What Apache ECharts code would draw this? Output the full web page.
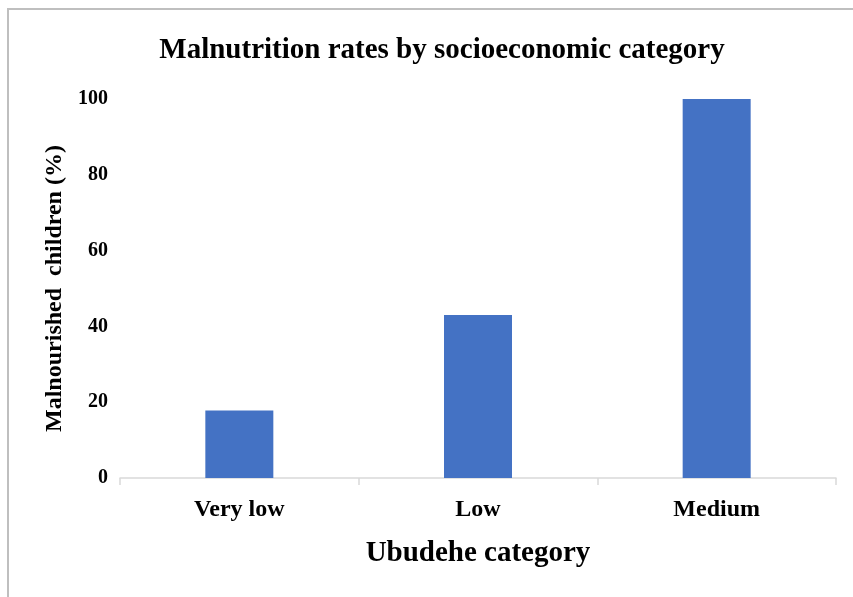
<!DOCTYPE html>
<html>
<head>
<meta charset="utf-8">
<script src="https://cdn.jsdelivr.net/npm/echarts@6/dist/echarts.min.js"></script>
<style>html,body{margin:0;padding:0;background:#fff;}#c{width:853px;height:597px;}</style>
</head>
<body>
<div id="c"></div>
<script>
const categories = ["Very low", "Low", "Medium"];
const values = [17.8, 43.0, 100];
const yTicks = [0, 20, 40, 60, 80, 100];

const F = "'Liberation Serif', 'Times New Roman', serif";
const chart = echarts.init(document.getElementById('c'), null, {renderer: 'canvas'});
chart.setOption({
  animation: false,
  backgroundColor: '#fff',
  title: {
    text: 'Malnutrition rates by socioeconomic category',
    left: 437, top: 31, textAlign: 'center',
    textStyle: {fontFamily: F, fontSize: 29, fontWeight: 'bold', color: '#000'}
  },
  graphic: [{
    type: 'rect', shape: {x: 8, y: 9, width: 900, height: 700},
    style: {fill: 'none', stroke: '#bfbfbf', lineWidth: 2}, silent: true
  }],
  grid: {left: 120, right: 17, top: 99, bottom: 119},
  xAxis: {
    type: 'category', data: categories,
    name: 'Ubudehe category', nameLocation: 'middle', nameGap: 61,
    nameTextStyle: {fontFamily: F, fontSize: 29, fontWeight: 'bold', color: '#000'},
    axisLine: {lineStyle: {color: '#d9d9d9', width: 1.5}},
    axisTick: {show: true, length: 7, lineStyle: {color: '#d9d9d9', width: 1.5}},
    axisLabel: {fontFamily: F, fontSize: 24, fontWeight: 'bold', color: '#000', margin: 20}
  },
  yAxis: {
    type: 'value', min: 0, max: 100, interval: 20,
    name: 'Malnourished  children (%)', nameLocation: 'middle', nameGap: 52,
    nameTextStyle: {fontFamily: F, fontSize: 24, fontWeight: 'bold', color: '#000'},
    axisLine: {show: false}, axisTick: {show: false}, splitLine: {show: false},
    axisLabel: {fontFamily: F, fontSize: 20, fontWeight: 'bold', color: '#000', margin: 12,
      padding: [3, 0, 0, 0],
      formatter: v => yTicks.includes(v) ? String(v) : ''}
  },
  series: [{
    type: 'bar', data: values, barWidth: 68,
    itemStyle: {color: '#4472c4'}
  }]
});
</script>
</body>
</html>
